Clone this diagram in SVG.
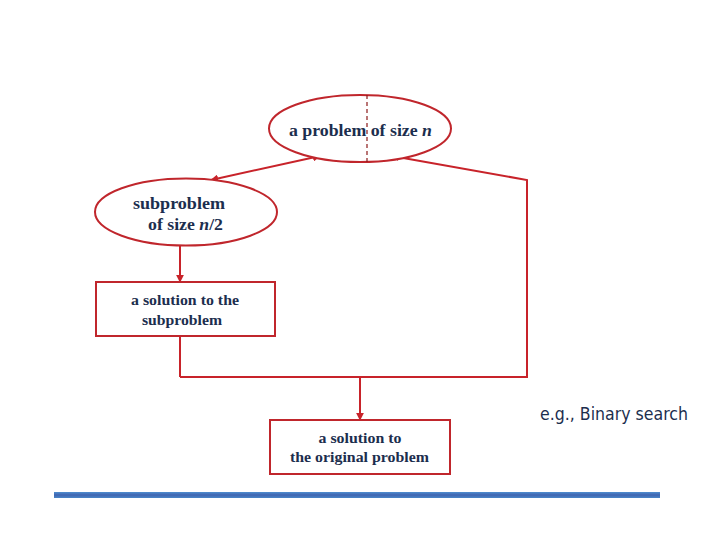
<svg xmlns="http://www.w3.org/2000/svg" width="720" height="540" viewBox="0 0 720 540">
<style>
.n{fill:#fff;stroke:#c0262c;stroke-width:2}
.c{fill:none;stroke:#c8232a;stroke-width:2}
.t{font-family:"Liberation Serif","Times New Roman",serif;font-weight:bold;fill:#1c2e4e;text-anchor:middle}
</style>
<defs>
<marker id="ah" viewBox="0 0 10 10" refX="9" refY="5" markerWidth="4" markerHeight="4" orient="auto-start-reverse">
<path d="M0,0L10,5L0,10z" fill="#c8232a"/>
</marker>
<linearGradient id="bar" x1="0" y1="0" x2="0" y2="1">
<stop offset="0" stop-color="#4f8ed0"/>
<stop offset="0.5" stop-color="#3f64b0"/>
<stop offset="1" stop-color="#4a86c8"/>
</linearGradient>
</defs>
<rect width="720" height="540" fill="#fff"/>
<g id="connectors">
<polyline class="c" points="320,156 211,180" marker-start="url(#ah)" marker-end="url(#ah)"/>
<polyline class="c" points="392,156 527,180 527,377 180,377" marker-start="url(#ah)"/>
<line class="c" x1="180" y1="246" x2="180" y2="282" marker-end="url(#ah)"/>
<line class="c" x1="180" y1="336" x2="180" y2="377"/>
<line class="c" x1="360" y1="377" x2="360" y2="420" marker-end="url(#ah)"/>
</g>
<g id="problem">
<ellipse class="n" cx="360" cy="128.5" rx="91" ry="33.5"/>
<line x1="367" y1="95" x2="367" y2="162" stroke="#8b1a1a" stroke-width="1.2" stroke-dasharray="4,3"/>
<text class="t" x="360.5" y="136" font-size="17" textLength="143" lengthAdjust="spacingAndGlyphs">a problem of size <tspan font-style="italic">n</tspan></text>
</g>
<g id="subproblem">
<ellipse class="n" cx="186" cy="212" rx="91" ry="33.5"/>
<text class="t" x="179" y="209" font-size="17.5" textLength="92" lengthAdjust="spacingAndGlyphs">subproblem</text>
<text class="t" x="185.5" y="230" font-size="17.5" textLength="75" lengthAdjust="spacingAndGlyphs">of size <tspan font-style="italic">n</tspan>/2</text>
</g>
<g id="subsolution">
<rect class="n" x="96" y="282" width="179" height="54"/>
<text class="t" x="185" y="305" font-size="15" textLength="108" lengthAdjust="spacingAndGlyphs">a solution to the</text>
<text class="t" x="182" y="325" font-size="15" textLength="80" lengthAdjust="spacingAndGlyphs">subproblem</text>
</g>
<g id="solution">
<rect class="n" x="270" y="420" width="180" height="54"/>
<text class="t" x="360" y="443" font-size="15" textLength="83" lengthAdjust="spacingAndGlyphs">a solution to</text>
<text class="t" x="359.5" y="462" font-size="15" textLength="139" lengthAdjust="spacingAndGlyphs">the original problem</text>
</g>
<text x="540" y="420" font-family="'DejaVu Sans',Verdana,sans-serif" font-size="17" fill="#1c2e4e" textLength="148" lengthAdjust="spacingAndGlyphs">e.g., Binary search</text>
<rect x="54" y="492" width="606" height="6" fill="url(#bar)"/>
</svg>
